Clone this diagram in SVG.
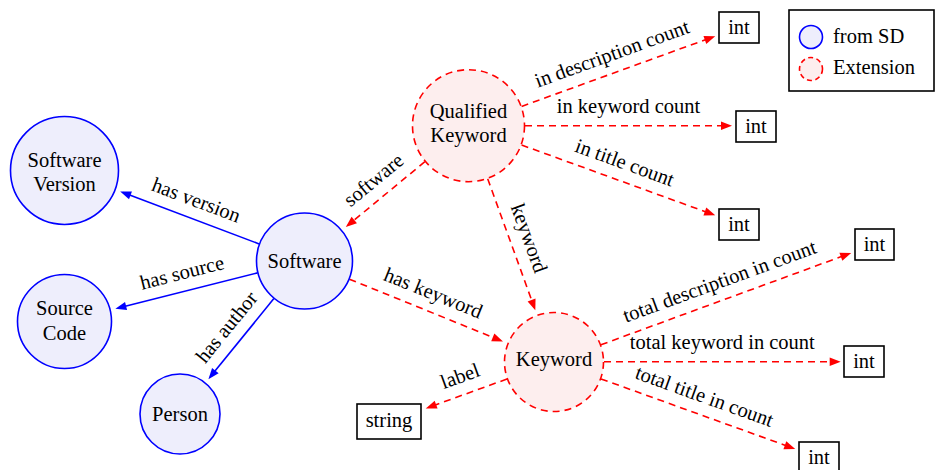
<svg xmlns="http://www.w3.org/2000/svg" width="940" height="470" viewBox="0 0 940 470">
  <defs>
    <style>
      text { font-family: "Liberation Serif", "Tinos", "Nimbus Roman", "DejaVu Serif", serif; font-size: 20.5px; fill: #000; }
      .lbl { text-anchor: middle; }
      .sd { fill: #eeeefc; stroke: #0000ff; stroke-width: 1.6; }
      .ext { fill: #fdeeee; stroke: #ff0000; stroke-width: 1.6; stroke-dasharray: 7 5; }
      .box { fill: #fff; stroke: #000; stroke-width: 1.6; }
      .eb { fill: none; stroke: #0000ff; stroke-width: 1.6; marker-end: url(#tipB); }
      .er { fill: none; stroke: #ff0000; stroke-width: 1.6; stroke-dasharray: 7 5; marker-end: url(#tipR); }
    </style>
    <marker id="tipB" viewBox="-9 -5 13 10" refX="0" refY="0" markerWidth="13" markerHeight="10" markerUnits="userSpaceOnUse" orient="auto">
      <path d="M3,0 L-8,-4.2 L-8,4.2 Z" fill="#0000ff"/>
    </marker>
    <marker id="tipR" viewBox="-9 -5 13 10" refX="0" refY="0" markerWidth="13" markerHeight="10" markerUnits="userSpaceOnUse" orient="auto">
      <path d="M3,0 L-8,-4.2 L-8,4.2 Z" fill="#ff0000"/>
    </marker>
  </defs>

  <rect width="940" height="470" fill="#fff"/>

  <!-- connectors: lines end 3px short of the tip, the marker fills the rest -->
  <g id="connectors">
    <path class="eb" d="M259.1,243.9 L123.0,192.6"/>
    <path class="eb" d="M257.5,272.9 L118.3,308.0"/>
    <path class="eb" d="M273.9,298.6 L210.3,376.8"/>

    <path class="er" d="M424.9,161.7 L348.1,225.1"/>
    <path class="er" d="M487.7,178.8 L534.3,307.5"/>
    <path class="er" d="M349.4,279.2 L500.2,340.3"/>

    <path class="er" d="M521.6,106.4 L712.4,37.2"/>
    <path class="er" d="M525.0,125.8 L729.0,125.8"/>
    <path class="er" d="M521.6,145.0 L712.4,214.3"/>

    <path class="er" d="M600.9,344.8 L848.4,254.0"/>
    <path class="er" d="M604.0,361.7 L837.7,361.7"/>
    <path class="er" d="M601.0,378.9 L792.4,447.9"/>
    <path class="er" d="M507.0,379.0 L428.6,407.4"/>

    <!-- edge labels, placed at the middle of each edge and turned along it -->
    <text class="lbl" transform="translate(189.6,217.7) rotate(20.66)" y="-12">has version</text>
    <text class="lbl" transform="translate(186.5,290.8) rotate(-14.15)" y="-12">has source</text>
    <text class="lbl" transform="translate(241.2,338.9) rotate(-50.9)" y="-12">has author</text>
    <text class="lbl" transform="translate(385.4,194.4) rotate(-39.5)" y="-12">software</text>
    <text class="lbl" transform="translate(511.5,244.6) rotate(70.1)" y="-12">keyword</text>
    <text class="lbl" transform="translate(426.2,310.3) rotate(22.04)" y="-12">has keyword</text>
    <text class="lbl" transform="translate(618.4,71.3) rotate(-19.96)" y="-12">in description count</text>
    <text class="lbl" transform="translate(628.5,125.8)" y="-13">in keyword count</text>
    <text class="lbl" transform="translate(618.4,180.2) rotate(19.97)" y="-12">in title count</text>
    <text class="lbl" transform="translate(726,298.9) rotate(-20.13)" y="-12">total description in count</text>
    <text class="lbl" transform="translate(722.3,361.7)" y="-13">total keyword in count</text>
    <text class="lbl" transform="translate(698.1,413.9) rotate(19.82)" y="-12">total title in count</text>
    <text class="lbl" transform="translate(466.4,393.7) rotate(-19.9)" y="-12">label</text>
  </g>

  <!-- SD nodes -->
  <g id="software-version">
    <circle class="sd" cx="64.5" cy="170.5" r="54"/>
    <text class="lbl" x="64.5" y="166.5">Software</text>
    <text class="lbl" x="64.5" y="191">Version</text>
  </g>
  <g id="source-code">
    <circle class="sd" cx="64.5" cy="321.5" r="47"/>
    <text class="lbl" x="64.5" y="315">Source</text>
    <text class="lbl" x="64.5" y="340">Code</text>
  </g>
  <g id="person">
    <circle class="sd" cx="180" cy="414" r="40"/>
    <text class="lbl" x="180" y="421">Person</text>
  </g>
  <g id="software">
    <circle class="sd" cx="304.5" cy="261" r="48"/>
    <text class="lbl" x="304.5" y="268.3">Software</text>
  </g>

  <!-- extension nodes -->
  <g id="qualified-keyword">
    <circle class="ext" cx="468.5" cy="125.7" r="56"/>
    <text class="lbl" x="468.5" y="118.3">Qualified</text>
    <text class="lbl" x="468.5" y="141.7">Keyword</text>
  </g>
  <g id="keyword">
    <circle class="ext" cx="554" cy="362" r="49.5"/>
    <text class="lbl" x="554" y="366">Keyword</text>
  </g>

  <!-- literal types -->
  <g id="int-description">
    <rect class="box" x="719" y="12" width="40" height="31"/>
    <text class="lbl" x="739" y="34">int</text>
  </g>
  <g id="int-keyword">
    <rect class="box" x="736" y="111" width="40" height="31"/>
    <text class="lbl" x="756" y="133">int</text>
  </g>
  <g id="int-title">
    <rect class="box" x="719" y="209" width="40" height="31"/>
    <text class="lbl" x="739" y="231">int</text>
  </g>
  <g id="int-total-description">
    <rect class="box" x="855" y="229" width="39" height="31"/>
    <text class="lbl" x="874.5" y="251">int</text>
  </g>
  <g id="int-total-keyword">
    <rect class="box" x="844" y="346" width="40" height="31"/>
    <text class="lbl" x="864" y="368">int</text>
  </g>
  <g id="int-total-title">
    <rect class="box" x="799" y="442" width="40" height="31"/>
    <text class="lbl" x="819" y="464">int</text>
  </g>
  <g id="string">
    <rect class="box" x="357" y="404" width="64" height="35"/>
    <text class="lbl" x="389" y="427">string</text>
  </g>

  <!-- legend -->
  <g id="legend">
    <rect class="box" x="789" y="10" width="145" height="81"/>
    <circle class="sd" cx="811" cy="37" r="11.5"/>
    <circle class="ext" cx="811" cy="69" r="11.5" style="stroke-dasharray: 5 3.5"/>
    <text x="833" y="42.5">from SD</text>
    <text x="833" y="74">Extension</text>
  </g>
</svg>
